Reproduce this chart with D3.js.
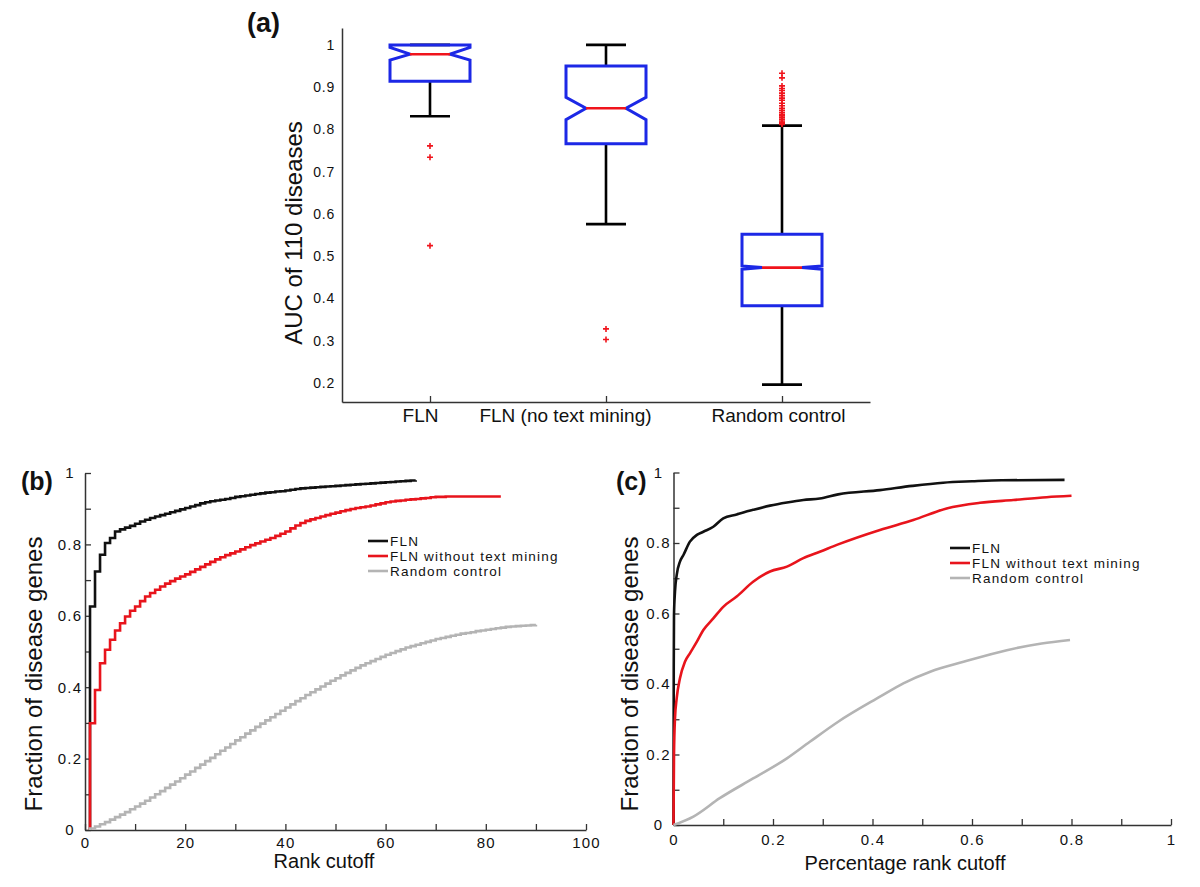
<!DOCTYPE html>
<html>
<head>
<meta charset="utf-8">
<script src="https://cdn.jsdelivr.net/npm/d3@7/dist/d3.min.js"></script>
<style>
  body { margin: 0; background: #fff; }
  text { font-family: "Liberation Sans", Arial, Helvetica, sans-serif; fill: #111; }
</style>
</head>
<body>
<svg id="chart" width="1200" height="887"></svg>
<script>
// ---- (a) AUC box plots ----
var categories = ["FLN", "FLN (no text mining)", "Random control"];
var whiskerLow = [0.831, 0.576, 0.196];
var quartile1 = [0.914, 0.766, 0.383];
var medians = [0.978, 0.850, 0.473];
var quartile3 = [1.0, 0.950, 0.552];
var whiskerHigh = [1.0, 1.0, 0.809];
var notchLow = [0.964, 0.823, 0.469];
var notchHigh = [0.994, 0.876, 0.477];
var outliers = [
  [0.761, 0.734, 0.525],
  [0.328, 0.303],
  [0.933, 0.922, 0.903, 0.897, 0.892, 0.886, 0.880, 0.874, 0.869, 0.862, 0.856,
   0.850, 0.845, 0.840, 0.836, 0.832, 0.828, 0.824, 0.820, 0.817, 0.814, 0.812]
];
var aucTicks = [0.2, 0.3, 0.4, 0.5, 0.6, 0.7, 0.8, 0.9, 1];

// ---- (b) fraction of disease genes by rank cutoff (value at rank 1, 2, 3 ...) ----
var seriesNames = ["FLN", "FLN without text mining", "Random control"];
var flnByRank = [0.626,0.724,0.771,0.804,0.818,0.836,0.842,0.847,0.852,0.858,
  0.864,0.869,0.874,0.878,0.882,0.886,0.890,0.894,0.898,0.902,
  0.906,0.910,0.915,0.918,0.921,0.923,0.925,0.927,0.930,0.933,
  0.935,0.937,0.939,0.941,0.943,0.945,0.946,0.948,0.949,0.951,
  0.953,0.955,0.957,0.958,0.959,0.960,0.961,0.962,0.963,0.964,
  0.965,0.966,0.967,0.968,0.969,0.970,0.971,0.972,0.973,0.974,
  0.975,0.976,0.977,0.978,0.979,0.980];
var noTextByRank = [0.299,0.392,0.467,0.505,0.533,0.559,0.579,0.598,0.614,0.626,
  0.641,0.654,0.664,0.673,0.682,0.690,0.697,0.704,0.710,0.716,
  0.723,0.730,0.737,0.744,0.751,0.758,0.764,0.770,0.775,0.780,
  0.786,0.792,0.798,0.803,0.808,0.813,0.818,0.824,0.830,0.836,
  0.845,0.853,0.860,0.866,0.870,0.874,0.878,0.882,0.886,0.889,
  0.893,0.896,0.899,0.902,0.904,0.906,0.909,0.912,0.915,0.918,
  0.920,0.922,0.923,0.925,0.926,0.927,0.929,0.930,0.932,0.933,
  0.933,0.934,0.934,0.934,0.934,0.934,0.934,0.934,0.934,0.934,
  0.934,0.934,0.934];
var randomByRank = [0.004,0.010,0.016,0.022,0.029,0.036,0.043,0.050,0.058,0.066,
  0.074,0.082,0.091,0.100,0.109,0.118,0.127,0.136,0.145,0.155,
  0.164,0.174,0.183,0.193,0.202,0.212,0.222,0.231,0.241,0.251,
  0.260,0.270,0.279,0.289,0.298,0.307,0.316,0.325,0.334,0.343,
  0.352,0.361,0.369,0.378,0.386,0.394,0.402,0.410,0.418,0.425,
  0.433,0.440,0.447,0.454,0.461,0.467,0.473,0.479,0.485,0.491,
  0.496,0.501,0.506,0.511,0.515,0.519,0.523,0.527,0.531,0.535,
  0.538,0.541,0.544,0.547,0.550,0.552,0.554,0.557,0.559,0.561,
  0.563,0.565,0.567,0.569,0.570,0.571,0.572,0.573,0.574,0.575];
var rankTicks = [0, 10, 20, 30, 40, 50, 60, 70, 80, 90, 100];
var fracTicks = [0, 0.1, 0.2, 0.3, 0.4, 0.5, 0.6, 0.7, 0.8, 0.9, 1];

// ---- (c) fraction of disease genes by percentage rank cutoff [cutoff, fraction] ----
var flnByPct = [[0,0],[0.0005,0.45],[0.001,0.596],[0.003,0.662],[0.0064,0.709],[0.013,0.747],
  [0.020,0.766],[0.033,0.804],[0.047,0.823],[0.060,0.832],[0.080,0.846],[0.100,0.870],
  [0.127,0.881],[0.160,0.894],[0.194,0.906],[0.228,0.915],[0.261,0.922],[0.294,0.926],
  [0.331,0.938],[0.415,0.950],[0.480,0.962],[0.542,0.971],[0.600,0.975],[0.660,0.978],[0.786,0.979]];
var noTextByPct = [[0,0],[0.001,0.199],[0.003,0.303],[0.0064,0.359],[0.013,0.416],[0.023,0.463],
  [0.033,0.487],[0.047,0.520],[0.060,0.553],[0.080,0.586],[0.100,0.619],[0.127,0.648],
  [0.160,0.690],[0.194,0.719],[0.228,0.733],[0.261,0.757],[0.294,0.775],[0.331,0.796],
  [0.415,0.837],[0.482,0.865],[0.549,0.898],[0.616,0.914],[0.683,0.922],[0.750,0.930],[0.800,0.934]];
var randomByPct = [[0,0],[0.040,0.024],[0.093,0.076],[0.160,0.132],[0.228,0.189],[0.274,0.236],
  [0.331,0.293],[0.415,0.364],[0.462,0.402],[0.516,0.435],[0.583,0.463],[0.670,0.496],
  [0.740,0.515],[0.797,0.525]];
var pctTicks = [0, 0.1, 0.2, 0.3, 0.4, 0.5, 0.6, 0.7, 0.8, 0.9, 1];

var lineColors = ["#111111", "#e8141c", "#b4b4b4"];
var axisColor = "#333";

var svg = d3.select("#chart");
svg.append("rect").attr("width", 1200).attr("height", 887).attr("fill", "#fff");

function styleAxis(g, fontSize) {
  g.select(".domain").attr("stroke", axisColor).attr("stroke-width", 1.5);
  g.selectAll(".tick line").attr("stroke", axisColor).attr("stroke-width", 1.3);
  g.selectAll(".tick text").attr("font-size", fontSize)
    .attr("font-family", "Liberation Sans, Arial, sans-serif").attr("fill", "#111");
}

// ================= panel (a) =================
var xA = d3.scalePoint().domain(categories).range([342, 870]).padding(0.5);
var yA = d3.scaleLinear().domain([0.155, 1.04]).range([402, 28]);

var yAxisA = svg.append("g")
  .attr("transform", "translate(342,0)")
  .call(d3.axisLeft(yA).tickValues(aucTicks).tickSize(0).tickSizeOuter(0)
    .tickPadding(7).tickFormat(d3.format("~g")));
styleAxis(yAxisA, 14);
yAxisA.selectAll(".tick text").attr("letter-spacing", 0.8);

var labelShift = [-10, -41, -4];
var xAxisA = svg.append("g")
  .attr("transform", "translate(0,402)")
  .call(d3.axisBottom(xA).tickSize(-6).tickSizeOuter(0).tickPadding(7));
styleAxis(xAxisA, 19);
xAxisA.selectAll(".tick text").attr("dx", function(d, i) { return labelShift[i]; });

svg.append("text")
  .attr("transform", "translate(302,233) rotate(-90)")
  .attr("text-anchor", "middle")
  .attr("font-size", 24)
  .text("AUC of 110 diseases");

svg.append("text").attr("x", 247).attr("y", 32)
  .attr("font-size", 27).attr("font-weight", "bold").text("(a)");

var boxes = categories.map(function(c, i) {
  return { cat: c, lo: whiskerLow[i], q1: quartile1[i], med: medians[i], q3: quartile3[i],
           hi: whiskerHigh[i], nLo: notchLow[i], nHi: notchHigh[i], out: outliers[i] };
});

var boxG = svg.selectAll(".box").data(boxes).enter().append("g").attr("class", "box");
var halfW = 40, capW = 20;

// whiskers
boxG.append("path")
  .attr("fill", "none").attr("stroke", "#000").attr("stroke-width", 2.6)
  .attr("d", function(d) {
    var cx = xA(d.cat);
    return "M" + cx + "," + yA(d.q3) + "V" + yA(d.hi) +
      "M" + (cx - capW) + "," + yA(d.hi) + "H" + (cx + capW) +
      "M" + cx + "," + yA(d.q1) + "V" + yA(d.lo) +
      "M" + (cx - capW) + "," + yA(d.lo) + "H" + (cx + capW);
  });

// notched box
boxG.append("path")
  .attr("fill", "none").attr("stroke", "#1c28e6").attr("stroke-width", 3)
  .attr("stroke-linejoin", "miter")
  .attr("d", function(d) {
    var cx = xA(d.cat);
    var p = d3.path();
    p.moveTo(cx - halfW, yA(d.q3));
    p.lineTo(cx + halfW, yA(d.q3));
    p.lineTo(cx + halfW, yA(d.nHi));
    p.lineTo(cx + halfW / 2, yA(d.med));
    p.lineTo(cx + halfW, yA(d.nLo));
    p.lineTo(cx + halfW, yA(d.q1));
    p.lineTo(cx - halfW, yA(d.q1));
    p.lineTo(cx - halfW, yA(d.nLo));
    p.lineTo(cx - halfW / 2, yA(d.med));
    p.lineTo(cx - halfW, yA(d.nHi));
    p.closePath();
    return p.toString();
  });

// median
boxG.append("line")
  .attr("x1", function(d) { return xA(d.cat) - halfW / 2; })
  .attr("x2", function(d) { return xA(d.cat) + halfW / 2; })
  .attr("y1", function(d) { return yA(d.med); })
  .attr("y2", function(d) { return yA(d.med); })
  .attr("stroke", "#f0141c").attr("stroke-width", 2.6);

// outliers
boxG.selectAll(".out").data(function(d) {
    return d.out.map(function(v) { return { cat: d.cat, v: v }; });
  }).enter().append("path")
  .attr("class", "out")
  .attr("transform", function(d) { return "translate(" + xA(d.cat) + "," + yA(d.v) + ")"; })
  .attr("d", "M-3,0H3M0,-3V3")
  .attr("stroke", "#f0141c").attr("stroke-width", 1.6);

// ================= panels (b) and (c) =================
function cdfPanel(opt) {
  var x = d3.scaleLinear().domain([0, opt.xMax]).range(opt.xRange);
  var y = d3.scaleLinear().domain([0, 1]).range(opt.yRange);

  var gx = svg.append("g")
    .attr("transform", "translate(0," + opt.yRange[0] + ")")
    .call(d3.axisBottom(x).tickValues(opt.xTicks).tickSize(-6).tickSizeOuter(0)
      .tickPadding(opt.xPad)
      .tickFormat(function(d, i) { return i % 2 === 0 ? d3.format("~g")(d) : ""; }));
  styleAxis(gx, 15);
  gx.selectAll(".tick text").attr("letter-spacing", 1.2);

  var gy = svg.append("g")
    .attr("transform", "translate(" + opt.xRange[0] + ",0)")
    .call(d3.axisLeft(y).tickValues(fracTicks).tickSize(-6).tickSizeOuter(0)
      .tickFormat(function(d, i) { return i % 2 === 0 ? d3.format("~g")(d) : ""; }));
  styleAxis(gy, 15);
  gy.selectAll(".tick text").attr("text-anchor", "middle").attr("x", -15)
    .attr("letter-spacing", 1.2);

  var line = d3.line()
    .x(function(d) { return x(d[0]); })
    .y(function(d) { return y(d[1]); })
    .curve(opt.curve);

  opt.series.forEach(function(s, i) {
    svg.append("path")
      .datum(s)
      .attr("fill", "none")
      .attr("stroke", lineColors[i])
      .attr("stroke-width", 2.6)
      .attr("stroke-linejoin", "miter")
      .attr("d", line);
  });

  // legend
  var leg = svg.append("g").attr("transform", "translate(" + opt.legend[0] + "," + opt.legend[1] + ")");
  seriesNames.forEach(function(name, i) {
    leg.append("line").attr("x1", 0).attr("x2", 20).attr("y1", i * 15).attr("y2", i * 15)
      .attr("stroke", lineColors[i]).attr("stroke-width", 2.6);
    leg.append("text").attr("x", 22).attr("y", i * 15 + 5)
      .attr("font-size", 13.5).attr("letter-spacing", 1.2).text(name);
  });

  svg.append("text")
    .attr("transform", "translate(" + opt.yLabelX + ",674) rotate(-90)")
    .attr("text-anchor", "middle").attr("font-size", 24)
    .text("Fraction of disease genes");

  svg.append("text")
    .attr("x", opt.xLabel[0]).attr("y", opt.xLabel[1])
    .attr("text-anchor", "middle").attr("font-size", 20)
    .text(opt.xTitle);

  svg.append("text").attr("x", opt.tag[0]).attr("y", opt.tag[1])
    .attr("font-size", 25).attr("font-weight", "bold").text(opt.tagText);
}

function rankSeries(values) {
  var pts = [[1, 0]];
  values.forEach(function(v, i) { pts.push([i + 1, v]); });
  return pts;
}

cdfPanel({
  xMax: 100, xRange: [85, 586], yRange: [830, 473], xTicks: rankTicks, xPad: 7,
  curve: d3.curveStepAfter,
  series: [rankSeries(flnByRank), rankSeries(noTextByRank), rankSeries(randomByRank)],
  legend: [368, 541], yLabelX: 42, xLabel: [324, 868], xTitle: "Rank cutoff",
  tag: [21, 490], tagText: "(b)"
});

cdfPanel({
  xMax: 1, xRange: [673.5, 1171], yRange: [825, 472.5], xTicks: pctTicks, xPad: 9,
  curve: d3.curveMonotoneX,
  series: [flnByPct, noTextByPct, randomByPct],
  legend: [950, 548], yLabelX: 638, xLabel: [905, 870], xTitle: "Percentage rank cutoff",
  tag: [616, 490], tagText: "(c)"
});
</script>
</body>
</html>
